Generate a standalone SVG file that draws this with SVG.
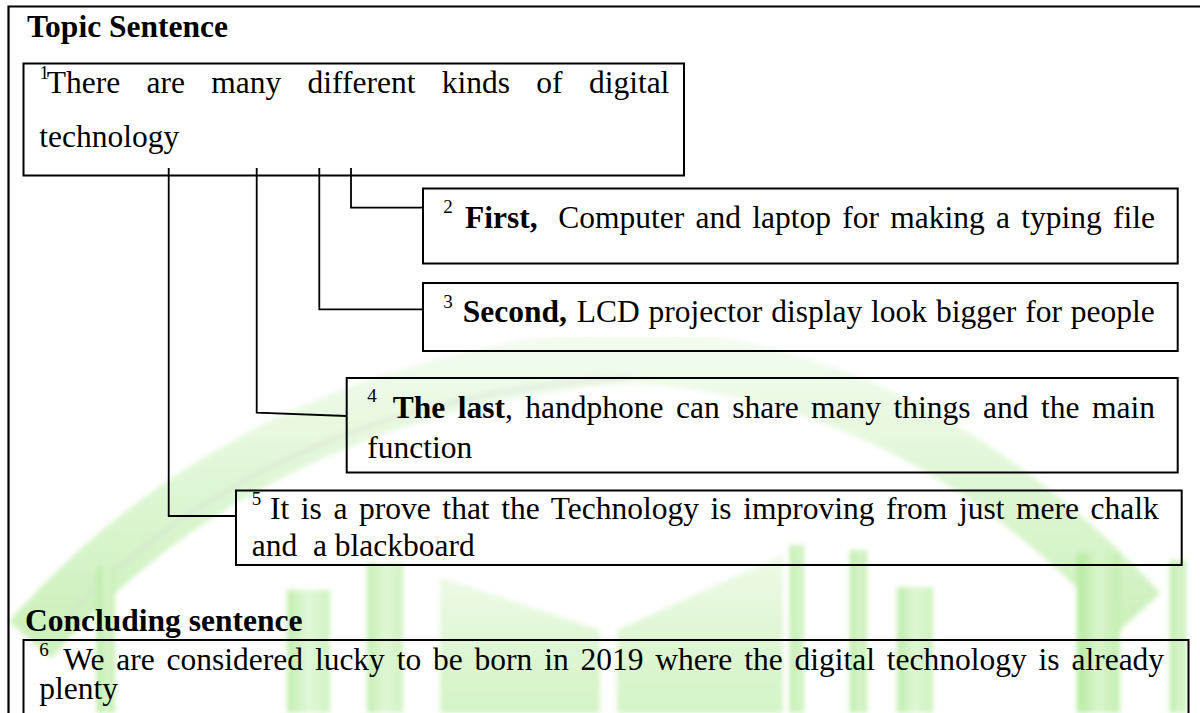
<svg xmlns="http://www.w3.org/2000/svg" width="1200" height="713" viewBox="0 0 1200 713">
  <style>
    text { font-family: "Liberation Serif", "Times New Roman", serif; font-size: 31.5px; fill: #000; }
    .b { font-weight: bold; }
    .sup { font-size: 19px; }
    .box { fill: none; stroke: #000; stroke-width: 2; }
    .frame { fill: none; stroke: #000; stroke-width: 2.2; }
    .link { fill: none; stroke: #000; stroke-width: 1.8; }
  </style>
  <defs>
    <linearGradient id="pillar" x1="0" y1="0" x2="1" y2="0">
      <stop offset="0" stop-color="#b3ea9b"/>
      <stop offset="0.5" stop-color="#d9f5cd"/>
      <stop offset="1" stop-color="#c4efb1"/>
    </linearGradient>
    <linearGradient id="page" x1="0" y1="0" x2="0" y2="1">
      <stop offset="0" stop-color="#ecfae6"/>
      <stop offset="1" stop-color="#d3f3c5"/>
    </linearGradient>
    <linearGradient id="arch" gradientUnits="userSpaceOnUse" x1="0" y1="330" x2="0" y2="620">
      <stop offset="0" stop-color="#f4fcf1"/>
      <stop offset="0.45" stop-color="#e2f7d9"/>
      <stop offset="1" stop-color="#cdf1bd"/>
    </linearGradient>
    <filter id="soft" x="-5%" y="-5%" width="110%" height="110%">
      <feGaussianBlur stdDeviation="2.5"/>
    </filter>
  </defs>

  <!-- faint green emblem in the background -->
  <g id="emblem" filter="url(#soft)">
    <path d="M30,640 C170,480 370,375 630,355 C830,365 1000,460 1140,612" fill="none" stroke="url(#arch)" stroke-width="56"/>
    <path d="M62,622 C190,485 380,390 630,378" fill="none" stroke="#d5d9d3" stroke-width="3" opacity="0.55"/>
    <rect x="97" y="567" width="18" height="146" fill="url(#pillar)"/>
    <rect x="287" y="590" width="43" height="123" fill="url(#pillar)" opacity="0.8"/>
    <rect x="367" y="563" width="36" height="150" fill="url(#pillar)" opacity="0.8"/>
    <polygon points="440,577 600,630 600,713 440,713" fill="url(#page)"/>
    <polygon points="617,630 783,555 783,713 617,713" fill="url(#page)"/>
    <rect x="790" y="545" width="14" height="168" fill="url(#pillar)"/>
    <rect x="850" y="550" width="17" height="163" fill="url(#pillar)"/>
    <rect x="897" y="587" width="36" height="126" fill="url(#pillar)" opacity="0.85"/>
    <rect x="1077" y="553" width="43" height="160" fill="url(#pillar)"/>
    <rect x="1170" y="560" width="16" height="153" fill="url(#pillar)"/>
  </g>

  <!-- outer frame (top and left edges) -->
  <path class="frame" d="M8.5,713 V6.5 H1200"/>

  <g id="connectors">
    <path class="link" d="M351,168 V207.7 H423"/>
    <path class="link" d="M319.3,168 V309.3 H423"/>
    <path class="link" d="M256.7,168 V412.7 L346.7,416"/>
    <path class="link" d="M168.7,168 V516 H236"/>
  </g>

  <g id="topic-heading">
    <text class="b" x="27" y="37">Topic Sentence</text>
  </g>

  <g id="topic">
    <rect class="box" x="23.5" y="63.5" width="660.5" height="112"/>
    <text class="sup" x="39.5" y="78.5">1</text>
    <text x="46.7" y="93.3" style="word-spacing:18.45px">There are many different kinds of digital</text>
    <text x="39.3" y="146.5">technology</text>
  </g>

  <g id="first">
    <rect class="box" x="423" y="188.5" width="754.7" height="75"/>
    <text class="sup" x="443.3" y="213.3">2</text>
    <text class="b" x="465" y="228.3">First,</text>
    <text x="558.3" y="228.3" style="word-spacing:3.4px">Computer and laptop for making a typing file</text>
  </g>

  <g id="second">
    <rect class="box" x="423" y="283" width="754.7" height="68"/>
    <text class="sup" x="443.3" y="308">3</text>
    <text class="b" x="462.7" y="321.7">Second,</text>
    <text x="576.7" y="321.7" style="word-spacing:1px">LCD projector display look bigger for people</text>
  </g>

  <g id="last">
    <rect class="box" x="346.7" y="378" width="831" height="94.5"/>
    <text class="sup" x="367.3" y="401.7">4</text>
    <text x="392.7" y="418.3" style="word-spacing:4.6px"><tspan class="b">The last</tspan>, handphone can share many things and the main</text>
    <text x="367.3" y="458.3">function</text>
  </g>

  <g id="proof">
    <rect class="box" x="236" y="490.5" width="945.7" height="74.5"/>
    <text class="sup" x="251.7" y="505">5</text>
    <text x="270" y="518.5" style="word-spacing:3.73px">It is a prove that the Technology is improving from just mere chalk</text>
    <text x="251.7" y="555.5" style="white-space:pre">and  a blackboard</text>
  </g>

  <g id="concluding-heading">
    <text class="b" x="25" y="631">Concluding sentence</text>
  </g>

  <g id="concluding">
    <rect class="box" x="23.5" y="640" width="1165" height="90"/>
    <text class="sup" x="39.3" y="656">6</text>
    <text x="63.3" y="670" style="word-spacing:3.96px">We are considered lucky to be born in 2019 where the digital technology is already</text>
    <text x="39.3" y="699">plenty</text>
  </g>
</svg>
